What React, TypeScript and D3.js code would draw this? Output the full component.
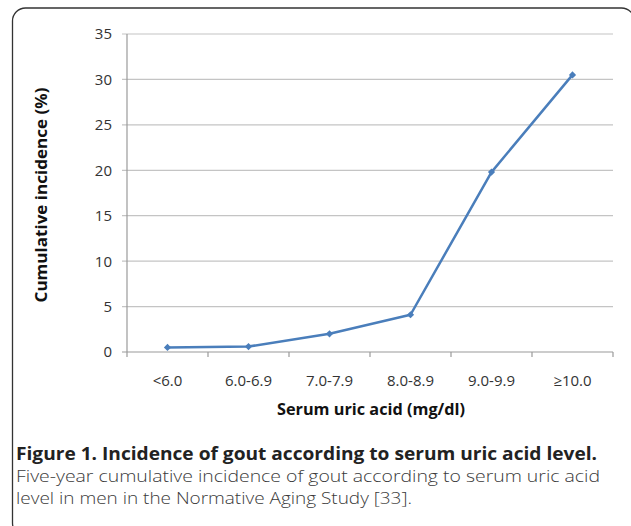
import React from "react";
import * as d3 from "d3";

const categories = ["<6.0", "6.0-6.9", "7.0-7.9", "8.0-8.9", "9.0-9.9", "≥10.0"];
const incidence = [0.5, 0.6, 2.0, 4.1, 19.8, 30.5];
const yTicks = [0, 5, 10, 15, 20, 25, 30, 35];

const captionTitle = "Figure 1. Incidence of gout according to serum uric acid level.";
const captionLines = [
  "Five-year cumulative incidence of gout according to serum uric acid",
  "level in men in the Normative Aging Study [33].",
];

export default function App() {
  const width = 631;
  const height = 526;
  const plot = { left: 127, right: 613, top: 34, bottom: 352 };

  const x = d3
    .scaleBand<string>()
    .domain(categories)
    .range([plot.left, plot.right])
    .padding(0);
  const y = d3.scaleLinear().domain([0, 35]).range([plot.bottom, plot.top]);

  const pts = categories.map((c, i) => [x(c)! + x.bandwidth() / 2, y(incidence[i])] as [number, number]);
  const line = d3.line()(pts) ?? "";
  // square turned 45° gives the Excel-style diamond marker
  const diamond = d3.symbol().type(d3.symbolSquare).size(26)() ?? "";

  const chartFont = "'Open Sans', 'Noto Sans', sans-serif";
  const capFont = "'Open Sans', 'Noto Sans', sans-serif";

  return (
    <svg
      width={width}
      height={height}
      style={{ position: "absolute", left: 0, top: 0, background: "#fff" }}
    >
      <rect x={12.5} y={8} width={622} height={528} rx={13} fill="#fff" stroke="#333" strokeWidth={1.3} />

      {/* gridlines */}
      {yTicks.map((t) => (
        <line key={t} x1={plot.left - 5} x2={plot.right} y1={y(t)} y2={y(t)} stroke={t === 0 ? "#9a9a9a" : "#c4c4c4"} strokeWidth={1.2} />
      ))}
      <line x1={plot.left} x2={plot.left} y1={plot.top} y2={plot.bottom} stroke="#9a9a9a" strokeWidth={1.2} />
      {[...categories.map((c) => x(c)!), plot.right].map((v, i) => (
        <line key={i} x1={v} x2={v} y1={plot.bottom} y2={plot.bottom + 5} stroke="#9a9a9a" strokeWidth={1.2} />
      ))}

      {/* y tick labels */}
      {yTicks.map((t) => (
        <text key={t} x={plot.left - 15} y={y(t)} dy="0.36em" textAnchor="end" fontFamily={chartFont} fontSize={15} fill="#333">
          {t}
        </text>
      ))}
      {/* x tick labels */}
      {categories.map((c) => (
        <text key={c} x={x(c)! + x.bandwidth() / 2} y={386} textAnchor="middle" fontFamily={chartFont} fontSize={15} fill="#333">
          {c}
        </text>
      ))}

      {/* axis titles */}
      <text x={371} y={415} textAnchor="middle" fontFamily={chartFont} fontSize={16.5} fontWeight="bold" fill="#111" textLength={188} lengthAdjust="spacingAndGlyphs">
        Serum uric acid (mg/dl)
      </text>
      <text
        transform={`translate(47,195) rotate(-90)`}
        textAnchor="middle"
        fontFamily={chartFont}
        fontSize={16.5}
        fontWeight="bold"
        fill="#111"
        textLength={215}
        lengthAdjust="spacingAndGlyphs"
      >
        Cumulative incidence (%)
      </text>

      {/* series */}
      <path d={line} fill="none" stroke="#4a7ebb" strokeWidth={2.5} strokeLinejoin="round" />
      {pts.map(([px, py], i) => (
        <path key={i} d={diamond} transform={`translate(${px},${py}) rotate(45)`} fill="#4a7ebb" />
      ))}

      {/* caption */}
      <text x={16} y={460} fontFamily={capFont} fontSize={17} fontWeight="bold" fill="#222" textLength={581} lengthAdjust="spacingAndGlyphs">
        {captionTitle}
      </text>
      <text x={16} y={482} fontFamily={capFont} fontSize={17} fontWeight={300} fill="#3a3a3a" textLength={584} lengthAdjust="spacingAndGlyphs">
        {captionLines[0]}
      </text>
      <text x={16} y={504} fontFamily={capFont} fontSize={17} fontWeight={300} fill="#3a3a3a" textLength={396} lengthAdjust="spacingAndGlyphs">
        {captionLines[1]}
      </text>
    </svg>
  );
}
